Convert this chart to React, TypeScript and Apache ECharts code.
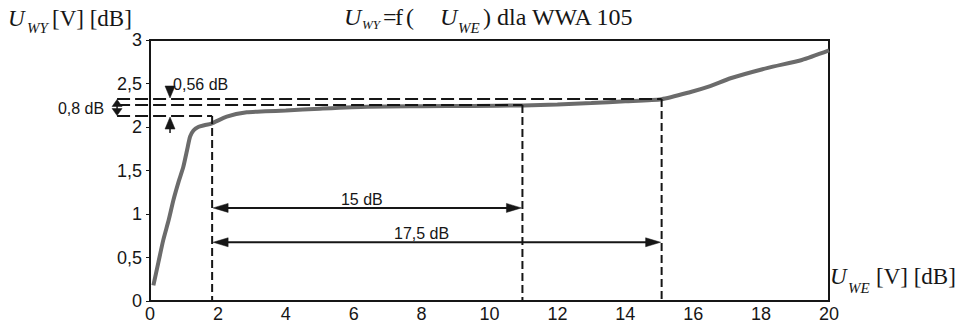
import React, { useEffect, useRef } from "react";
import * as echarts from "echarts";

// ---- data ----
const uwe = [0.1, 0.25, 0.39, 0.55, 0.69, 0.85, 0.98, 1.1, 1.18, 1.28, 1.42, 1.6, 1.81, 2.26, 2.85, 3.4, 4, 5, 6.4, 8, 9.5, 11, 12, 13, 14, 15.07, 15.9, 16.5, 17.1, 18.2, 19.2, 20];
const uwy = [0.18, 0.45, 0.7, 0.93, 1.16, 1.38, 1.54, 1.75, 1.89, 1.96, 2.0, 2.02, 2.04, 2.12, 2.17, 2.18, 2.19, 2.21, 2.233, 2.238, 2.242, 2.248, 2.26, 2.275, 2.295, 2.32, 2.4, 2.47, 2.56, 2.68, 2.77, 2.88];

// dashed guide levels (U_WY) and where they drop to the axis (U_WE)
const guideLevels = [2.322, 2.253, 2.126];
const guideDrops = [15.07, 10.97, 1.83];
const guideStartX = -0.97;

// span arrows
const spanLabels = ["15 dB", "17,5 dB"];
const spanY = [1.07, 0.675];
const spanFrom = [1.83, 1.83];
const spanTo = [10.97, 15.07];
const spanLabelX = [6.24, 8.0];
const spanLabelY = [1.17, 0.78];

// small level arrows
const smallArrowX = 0.59;
const downArrowFrom = 2.47;
const upArrowFrom = 1.93;
const dbLabel056 = "0,56 dB";
const dbLabel08 = "0,8 dB";

const xTicks = { min: 0, max: 20, interval: 2 };
const yTicks = { min: 0, max: 3, interval: 0.5 };

const SERIF = '"Liberation Serif", "Times New Roman", serif';
const SANS = '"Liberation Sans", Arial, sans-serif';
const INK = "#161616";

function txt(text: string, x: number, y: number, size: number, opts: any = {}) {
  return {
    type: "text",
    x,
    y,
    z: 100,
    silent: true,
    style: {
      text,
      fontSize: size,
      fontFamily: opts.family || SERIF,
      fontStyle: opts.italic ? "italic" : "normal",
      fill: INK,
      align: opts.align || "left",
      verticalAlign: "middle",
      textAlign: opts.align || "left",
      textVerticalAlign: "middle",
    },
  };
}

function head(tip: number[], dx: number, dy: number, len: number, hw: number) {
  const bx = tip[0] - dx * len;
  const by = tip[1] - dy * len;
  const px = -dy * hw;
  const py = dx * hw;
  return {
    type: "polygon",
    z: 90,
    silent: true,
    shape: { points: [tip, [bx + px, by + py], [bx - px, by - py]] },
    style: { fill: INK, stroke: INK, lineWidth: 0.5 },
  };
}

function seg(a: number[], b: number[], dash?: number[], w = 2) {
  return {
    type: "line",
    z: 80,
    silent: true,
    shape: { x1: a[0], y1: a[1], x2: b[0], y2: b[1] },
    style: { stroke: INK, lineWidth: w, lineDash: dash || null },
  };
}

export default function App() {
  const ref = useRef<HTMLDivElement>(null);
  useEffect(() => {
    if (!ref.current) return;
    const chart = echarts.init(ref.current, undefined, { renderer: "svg", width: 958, height: 329 });
    chart.setOption({
      animation: false,
      backgroundColor: "#ffffff",
      grid: { left: 150, top: 40, right: 129, bottom: 28, show: true, borderColor: INK, borderWidth: 2, backgroundColor: "transparent" },
      xAxis: {
        type: "value",
        min: xTicks.min,
        max: xTicks.max,
        interval: xTicks.interval,
        axisLine: { show: true, lineStyle: { color: INK, width: 2 } },
        axisTick: { show: false },
        splitLine: { show: false },
        axisLabel: { color: INK, fontSize: 18, fontFamily: SANS, margin: 4 },
      },
      yAxis: {
        type: "value",
        min: yTicks.min,
        max: yTicks.max,
        interval: yTicks.interval,
        axisLine: { show: true, lineStyle: { color: INK, width: 2 } },
        axisTick: { show: true, length: 4, lineStyle: { color: INK, width: 1 } },
        splitLine: { show: false },
        axisLabel: {
          color: INK,
          fontSize: 18,
          fontFamily: SANS,
          margin: 8,
          formatter: (v: number) => String(v).replace(".", ","),
        },
      },
      series: [
        {
          type: "line",
          data: uwe.map((x, i) => [x, uwy[i]]),
          smooth: 0.2,
          showSymbol: false,
          lineStyle: { color: "#6b6b6b", width: 4 },
          z: 5,
        },
      ],
    });

    const P = (x: number, y: number) => chart.convertToPixel({ gridIndex: 0 }, [x, y]) as number[];
    const g: any[] = [];

    // dashed guides
    guideLevels.forEach((lv, i) => {
      const a = P(guideStartX, lv);
      const b = P(guideDrops[i], lv);
      const c = P(guideDrops[i], 0);
      g.push(seg(a, b, [13, 5]));
      g.push(seg(b, c, [8, 4]));
    });

    // span arrows
    spanLabels.forEach((lab, i) => {
      const a = P(spanFrom[i], spanY[i]);
      const b = P(spanTo[i], spanY[i]);
      g.push(seg([a[0] + 6, a[1]], [b[0] - 6, b[1]], undefined, 2));
      g.push(head([a[0] + 1, a[1]], -1, 0, 15, 4.5));
      g.push(head([b[0] - 1, b[1]], 1, 0, 15, 4.5));
      const t = P(spanLabelX[i], spanLabelY[i]);
      g.push(txt(lab, t[0], t[1], 16, { family: SANS, align: "center" }));
    });

    // small arrows for 0,56 dB
    const topTip = P(smallArrowX, guideLevels[0]);
    const downStart = P(smallArrowX, downArrowFrom);
    g.push(seg(downStart, [topTip[0], topTip[1] - 6], undefined, 1.5));
    g.push(head([topTip[0], topTip[1] - 1], 0, 1, 12, 5));
    const botTip = P(smallArrowX, guideLevels[2]);
    const upStart = P(smallArrowX, upArrowFrom);
    g.push(seg(upStart, [botTip[0], botTip[1] + 6], undefined, 1.5));
    g.push(head([botTip[0], botTip[1] + 1], 0, -1, 12, 5));
    const l056 = P(smallArrowX + 0.09, 2.494);
    g.push(txt(dbLabel056, l056[0], l056[1], 16, { family: SANS }));

    // double arrow for 0,8 dB (two heads with a short waist)
    const dTop = P(guideStartX, guideLevels[0]);
    const dBot = P(guideStartX, guideLevels[2]);
    g.push(seg([dTop[0], dTop[1] + 4], [dBot[0], dBot[1] - 4], undefined, 1.5));
    g.push(head([dTop[0], dTop[1] + 0.5], 0, -1, 7, 5));
    g.push(head([dBot[0], dBot[1] - 0.5], 0, 1, 7, 5));
    const l08 = P(-1.35, 2.218);
    g.push(txt(dbLabel08, l08[0], l08[1], 16, { family: SANS, align: "right" }));

    // title: U_WY = f ( U_WE ) dla WWA 105
    g.push(txt("U", 344, 17, 24, { italic: true }));
    g.push(txt("WY", 362, 24.5, 13, { italic: true }));
    g.push(txt("=", 383, 17, 24));
    g.push(txt("f", 395, 17, 24));
    g.push(txt("(", 406, 17, 24));
    g.push(txt("U", 440, 17, 24, { italic: true }));
    g.push(txt("WE", 458, 28, 15, { italic: true }));
    g.push(txt(") dla WWA 105", 483, 17, 24));

    // y axis name
    g.push(txt("U", 8, 18, 23, { italic: true }));
    g.push(txt("WY", 27, 27.5, 15, { italic: true }));
    g.push(txt("[V] [dB]", 52, 18, 23));

    // x axis name
    g.push(txt("U", 830, 276, 23, { italic: true }));
    g.push(txt("WE", 848, 288, 15, { italic: true }));
    g.push(txt("[V] [dB]", 876, 276, 23));

    chart.setOption({ graphic: { elements: g } });

    return () => chart.dispose();
  }, []);
  return <div ref={ref} style={{ position: "fixed", left: 0, top: 0, width: 958, height: 329 }} />;
}
